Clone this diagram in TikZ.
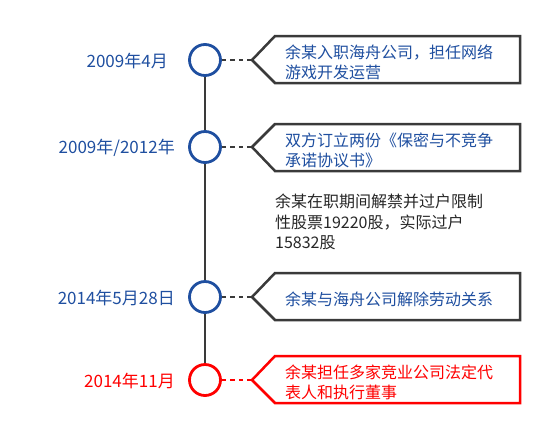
\documentclass[tikz,border=0pt]{standalone}
\usepackage{fontspec}
\setmainfont{Noto Sans CJK SC}
\definecolor{tlblue}{HTML}{1F4FA0}
\definecolor{tlred}{HTML}{FF0000}
\definecolor{tlgray}{HTML}{3A3A3A}
\begin{document}
\begin{tikzpicture}[x=1pt,y=-1pt,
  dot/.style={circle, draw=tlblue, line width=2.8pt, minimum size=31pt, inner sep=0pt, fill=white},
  dotred/.style={dot, draw=tlred},
  datelbl/.style={anchor=east, inner sep=0pt, text=tlblue, font=\fontsize{17}{20}\selectfont},
  boxtxt/.style={anchor=west, align=left, inner sep=0pt, text=tlblue, font=\fontsize{16}{20}\selectfont},
  callout/.style={draw=tlgray, line width=2.5pt, line join=miter, fill=white},
  link/.style={draw=tlgray, line width=2.8pt, dash pattern=on 4.5pt off 4pt},
  spine/.style={draw=tlgray, line width=2.5pt}]
\useasboundingbox (0,0) rectangle (554,440);

% callout outlines
\coordinate (t1) at (252,60);
\coordinate (t2) at (252,147);
\coordinate (t3) at (252,297);
\coordinate (t4) at (252,380);
\draw[callout] (t1) -- (275,36) -- (520,36) -- (520,83) -- (275,83) -- cycle;
\draw[callout] (t2) -- (275,124) -- (520,124) -- (520,171) -- (275,171) -- cycle;
\draw[callout] (t3) -- (275,273) -- (520,273) -- (520,320) -- (275,320) -- cycle;
\draw[callout, draw=tlred] (t4) -- (275,356) -- (520,356) -- (520,403) -- (275,403) -- cycle;

% circles
\node[dot] (c1) at (205,60) {};
\node[dot] (c2) at (205,147) {};
\node[dot] (c3) at (205,297) {};
\node[dotred] (c4) at (205,380) {};

% spine
\draw[spine] (c1.south) -- (c2.north);
\draw[spine] (c2.south) -- (c3.north);
\draw[spine] (c3.south) -- (c4.north);

% connectors
\draw[link] (c1.east) -- (t1);
\draw[link] (c2.east) -- (t2);
\draw[link] (c3.east) -- (t3);
\draw[link, draw=tlred] (c4.east) -- (t4);

% dates
\node[datelbl] (d1) at (168,61) {2009年4月};
\node[datelbl] (d2) at (175,148) {2009年/2012年};
\node[datelbl] (d3) at (175,298) {2014年5月28日};
\node[datelbl, text=tlred] (d4) at (175,381) {2014年11月};

% box texts
\node[boxtxt] (b1) at (285,62) {余某入职海舟公司，担任网络\\游戏开发运营};
\node[boxtxt] (b2) at (285,150) {双方订立两份《保密与不竞争\\承诺协议书》};
\node[boxtxt] (b3) at (285,299) {余某与海舟公司解除劳动关系};
\node[boxtxt, text=tlred] (b4) at (285,382) {余某担任多家竞业公司法定代\\表人和执行董事};

% middle note
\node[boxtxt, text=black!85, font=\fontsize{16}{20.5}\selectfont] (m1) at (275,222) {余某在职期间解禁并过户限制\\性股票19220股，实际过户\\15832股};
\end{tikzpicture}
\end{document}
